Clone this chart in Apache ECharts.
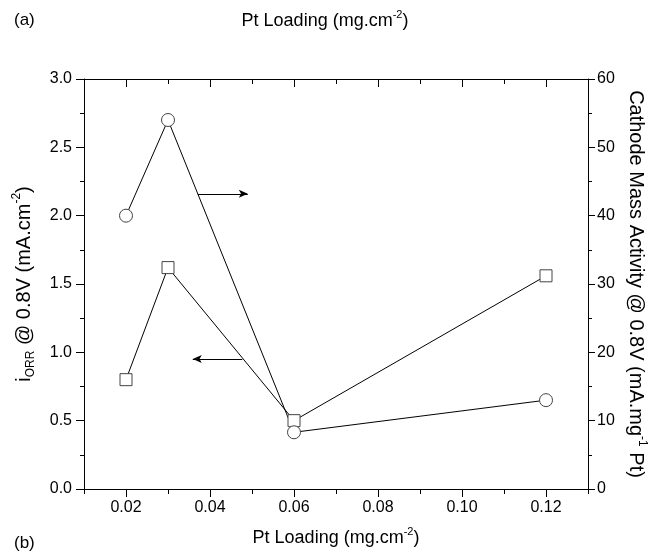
<!DOCTYPE html>
<html><head><meta charset="utf-8">
<script src="https://cdn.jsdelivr.net/npm/echarts@6/dist/echarts.min.js"></script>
<style>html,body{margin:0;padding:0;background:#fff}#c{width:650px;height:553px}</style>
</head><body><div id="c"></div>
<script>
// ---- data ----
const loading = [0.02, 0.03, 0.06, 0.12];          // Pt loading (mg.cm-2)
const iORR = [0.80, 1.62, 0.50, 1.56];             // left axis, squares
const massActivity = [40, 54, 8.3, 13];            // right axis, circles
const xMajorTicks = [0.02, 0.04, 0.06, 0.08, 0.10, 0.12];
const xMinorTicks = [0.01, 0.03, 0.05, 0.07, 0.09, 0.11, 0.13];
// annotation arrows (data coordinates)
const arrowMass = [[0.0371, 43.2], [0.0490, 43.2]];   // right-axis units, points right
const arrowIorr = [[0.0477, 0.952], [0.0359, 0.952]]; // left-axis units, points left

const FONT = 'Liberation Sans';
const black = '#000';
const chart = echarts.init(document.getElementById('c'), null, {renderer: 'canvas'});

function rich(size) {
  const s = Math.round(size * 0.6);
  return {
    n: {fontFamily: FONT, fontSize: size, fontWeight: 'normal', color: black, lineHeight: size + 6, verticalAlign: 'middle'},
    sub: {fontFamily: FONT, fontSize: s, fontWeight: 'normal', color: black, lineHeight: size + 6, verticalAlign: 'bottom'},
    sup: {fontFamily: FONT, fontSize: s, fontWeight: 'normal', color: black, lineHeight: size + 6, verticalAlign: 'top'}
  };
}

const xBase = {type: 'value', min: 0.01, max: 0.13, splitLine: {show: false}};
const option = {
  animation: false,
  backgroundColor: '#fff',
  title: [
    {text: '(a)', left: 9, top: 7, textStyle: {fontFamily: FONT, fontSize: 17, fontWeight: 'normal', color: black}},
    {text: '{n|Pt Loading (mg.cm}{sup|-2}{n|)}', left: 'center', top: 4,
     textStyle: {fontWeight: 'normal', rich: rich(18)}},
    {text: '(b)', left: 9, top: 530, textStyle: {fontFamily: FONT, fontSize: 17, fontWeight: 'normal', color: black}}
  ],
  grid: {left: 84, right: 62, top: 79, bottom: 64, containLabel: false, outerBoundsMode: 'none', show: false},
  xAxis: [
    Object.assign({}, xBase, {
      position: 'bottom',
      axisLine: {show: true, lineStyle: {color: black, width: 1}},
      axisTick: {show: true, customValues: xMajorTicks, length: 8, lineStyle: {color: black}},
      axisLabel: {show: true, customValues: xMajorTicks, formatter: v => v.toFixed(2),
        fontFamily: FONT, fontSize: 16, color: black, margin: 11},
      name: '{n|Pt Loading (mg.cm}{sup|-2}{n|)}', nameLocation: 'middle', nameGap: 37,
      nameTextStyle: {rich: rich(18)}
    }),
    Object.assign({}, xBase, {
      position: 'bottom',
      axisLine: {show: false},
      axisTick: {show: true, customValues: xMinorTicks, length: 5, lineStyle: {color: black}},
      axisLabel: {show: false}
    }),
    Object.assign({}, xBase, {
      position: 'top',
      axisLine: {show: true, lineStyle: {color: black, width: 1}},
      axisTick: {show: true, inside: true, customValues: xMajorTicks, length: 8, lineStyle: {color: black}},
      axisLabel: {show: false}
    }),
    Object.assign({}, xBase, {
      position: 'top',
      axisLine: {show: false},
      axisTick: {show: true, inside: true, customValues: xMinorTicks, length: 5, lineStyle: {color: black}},
      axisLabel: {show: false}
    })
  ],
  yAxis: [
    {
      type: 'value', position: 'left', min: 0, max: 3, interval: 0.5,
      splitLine: {show: false},
      axisLine: {show: true, lineStyle: {color: black, width: 1}},
      axisTick: {show: true, length: 8, lineStyle: {color: black}},
      minorTick: {show: true, splitNumber: 2, length: 4, lineStyle: {color: black}},
      axisLabel: {formatter: v => v.toFixed(1), fontFamily: FONT, fontSize: 16, color: black, margin: 12},
      name: '{n|i}{sub|ORR}{n| @ 0.8V (mA.cm}{sup|-2}{n|)}', nameLocation: 'middle', nameGap: 47,
      nameTextStyle: {rich: rich(20)}
    },
    {
      type: 'value', position: 'right', min: 0, max: 60, interval: 10,
      splitLine: {show: false},
      axisLine: {show: true, lineStyle: {color: black, width: 1}},
      axisTick: {show: true, length: 7, lineStyle: {color: black}},
      minorTick: {show: true, splitNumber: 2, length: 4, lineStyle: {color: black}},
      axisLabel: {fontFamily: FONT, fontSize: 16, color: black, margin: 9},
      name: '{n|Cathode Mass Activity @ 0.8V (mA.mg}{sup|-1}{n| Pt)}', nameLocation: 'middle',
      nameGap: 33, nameRotate: -90,
      nameTextStyle: {rich: rich(20)}
    }
  ],
  series: [
    {
      name: 'iORR', type: 'line', xAxisIndex: 0, yAxisIndex: 0,
      data: loading.map((x, i) => [x, iORR[i]]),
      symbol: 'rect', symbolSize: 12, showAllSymbol: true,
      itemStyle: {color: '#fff', borderColor: '#444', borderWidth: 1},
      lineStyle: {color: black, width: 1},
      emphasis: {disabled: true},
      markLine: {
        silent: true, symbol: ['none', 'arrow'], symbolSize: [6, 9],
        lineStyle: {color: black, width: 1, type: 'solid'}, label: {show: false},
        data: [[{coord: arrowIorr[0]}, {coord: arrowIorr[1]}]]
      },
      z: 3
    },
    {
      name: 'mass', type: 'line', xAxisIndex: 0, yAxisIndex: 1,
      data: loading.map((x, i) => [x, massActivity[i]]),
      symbol: 'circle', symbolSize: 13, showAllSymbol: true,
      itemStyle: {color: '#fff', borderColor: '#444', borderWidth: 1},
      lineStyle: {color: black, width: 1},
      emphasis: {disabled: true},
      markLine: {
        silent: true, symbol: ['none', 'arrow'], symbolSize: [6, 9],
        lineStyle: {color: black, width: 1, type: 'solid'}, label: {show: false},
        data: [[{coord: arrowMass[0]}, {coord: arrowMass[1]}]]
      },
      z: 3
    }
  ]
};
chart.setOption(option);
</script>
</body></html>
